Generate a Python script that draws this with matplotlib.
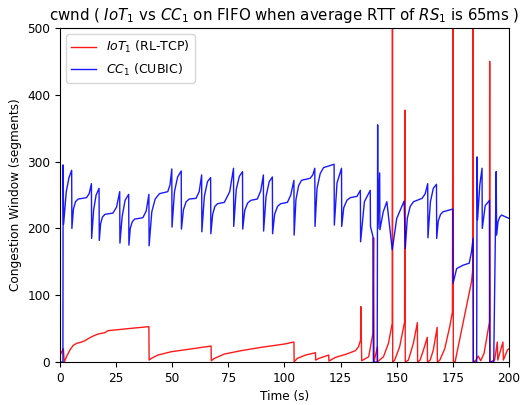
import numpy as np
import matplotlib
matplotlib.use('Agg')
import matplotlib.pyplot as plt

# cwnd samples (time in s, window in segments)
cubic_t = [0, 1.3, 1.4, 1.6, 2.8, 4.0, 5.2,
           5.3, 6.0, 6.9, 8.1, 11.8, 13.0, 14.0,
           14.1, 15.0, 16.1, 17.4,
           17.5, 18.1, 18.9, 20.0, 23.6, 25.2, 26.6,
           26.7, 27.7, 29.0, 30.6,
           30.7, 31.3, 32.2, 33.3, 36.9, 38.4, 39.6,
           39.7, 40.9, 42.4, 44.3, 48.0, 49.0, 49.8,
           49.9, 51.0, 52.4, 54.0,
           54.1, 55.0, 56.2, 57.6, 60.6, 62.0, 63.1,
           63.2, 64.3, 65.7, 67.1,
           67.2, 68.0, 69.0, 70.2, 73.2, 75.6, 77.3,
           77.4, 78.5, 79.9, 81.3,
           81.4, 82.3, 83.6, 85.0, 87.9, 89.4, 90.6,
           90.7, 91.8, 93.2, 94.6,
           94.7, 95.6, 96.9, 98.3, 101.3, 102.8, 104.2,
           104.3, 105.1, 106.3, 107.6, 111.4, 112.6, 113.5,
           113.6, 114.5, 115.9, 117.4, 121.1, 122.1,
           122.2, 123.4, 125.4,
           125.5, 126.4, 127.8, 129.3, 132.3, 133.8,
           133.9, 135.6, 138.2,
           138.3, 139.4, 139.6, 141.3, 141.5, 141.6, 142.4,
           142.5, 144.0, 145.6, 148.0, 150.0, 153.3,
           153.8, 154.7, 156.0, 157.5, 161.3, 162.7, 163.8,
           163.9, 165.0, 166.3, 167.7,
           167.8, 168.5, 169.5, 170.7, 175.0,
           175.1, 176.7, 179.6, 182.3, 183.3, 184.0,
           184.1, 185.6, 185.8, 186.0, 187.0, 188.0,
           188.1, 189.4, 191.3, 191.5, 193.2, 194.3,
           194.5, 195.1, 195.9, 196.7, 200.0]
cubic_w = [0, 0, 295, 206, 255, 276, 287,
           200, 229, 240, 244, 246, 252, 267,
           185, 228, 250, 260,
           182, 207, 217, 221, 223, 232, 255,
           178, 218, 242, 251,
           175, 200, 210, 214, 216, 226, 251,
           174, 225, 244, 252, 255, 265, 289,
           202, 255, 277, 286,
           199, 228, 240, 244, 245, 255, 280,
           195, 248, 270, 276,
           192, 221, 233, 237, 239, 255, 290,
           203, 258, 278, 285,
           199, 227, 238, 242, 244, 256, 280,
           196, 248, 270, 277,
           192, 221, 233, 237, 239, 250, 272,
           190, 243, 264, 272, 275, 280, 290,
           203, 260, 282, 291, 295, 296,
           205, 268, 290,
           203, 231, 242, 246, 248, 257,
           180, 240, 257,
           203, 188, 0, 0, 355, 200, 283,
           198, 225, 240, 168, 215, 241,
           170, 215, 233, 240, 245, 252, 267,
           186, 240, 260, 266,
           185, 211, 221, 225, 229,
           118, 140, 145, 148, 165, 185,
           0, 0, 307, 213, 265, 290,
           200, 234, 242, 0, 0, 285,
           190, 210, 217, 220, 215]

rl_t = [0, 1.5, 1.9, 2.9, 4.4, 5.9, 7.4, 9.6, 11.1, 12.6, 14.8, 17.0, 20.0,
        21.4, 24.4, 30.3, 33.3, 39.6,
        39.7, 40.7, 43.6, 49.6, 57.0, 67.3,
        67.4, 68.8, 73.2, 80.6, 89.5, 100.0, 104.2,
        104.3, 105.7, 109.4, 113.8,
        113.9, 115.3, 119.7,
        119.8, 122.7, 127.2, 131.6, 133.0, 133.9, 134.0,
        134.4, 137.5, 139.4, 139.7,
        139.9, 141.4, 141.5, 144.1, 146.3, 148.0, 148.1,
        148.2, 149.1, 151.3, 153.5, 153.7,
        153.8, 155.2, 157.4, 159.2,
        159.3, 160.4, 161.9, 163.6,
        163.7, 164.9, 166.3, 168.0,
        168.1, 169.2, 171.4, 173.6, 174.8, 175.1,
        175.2, 176.0, 183.3, 183.9, 184.0,
        184.1, 185.3, 186.3, 187.4, 188.9, 191.3, 191.4,
        191.5, 193.6, 194.8, 195.0, 197.3, 197.5, 199.3, 200.0]
rl_w = [10, 20, 0, 8, 18, 25, 28, 30, 32, 35, 39, 42, 44,
        47, 48, 50, 51, 53,
        3, 5.5, 10.5, 15.5, 19, 24,
        2, 5.5, 12, 17, 22, 27, 30,
        0.5, 5.5, 10.5, 14,
        3, 5.5, 10.5,
        1.5, 7, 11.5, 17, 23, 33, 83,
        2, 8, 43, 186,
        0.5, 23, 0.5, 8, 28, 58, 600,
        0, 3, 23, 60, 377,
        0, 3, 28, 59,
        0, 3, 18, 37,
        0, 3, 18, 52,
        0, 3, 20, 53, 75, 600,
        0, 0.5, 120, 140, 600,
        0, 3, 9, 2, 13, 60, 450,
        0, 3, 30, 3, 30, 3, 18, 20]

fig = plt.figure(figsize=(5.23, 4.05), dpi=100)
ax = fig.add_axes([0.1147, 0.106, 0.8585, 0.825])

ax.plot(rl_t, rl_w, color='red', lw=1.0, alpha=0.9, label='$IoT_1$ (RL-TCP)')
ax.plot(cubic_t, cubic_w, color='blue', lw=1.0, alpha=0.9, label='$CC_1$ (CUBIC)')

ax.set_xlim(0, 200)
ax.set_ylim(0, 500)
ax.set_xticks([0, 25, 50, 75, 100, 125, 150, 175, 200])
ax.set_yticks([0, 100, 200, 300, 400, 500])
ax.tick_params(labelsize=8.7)
ax.set_xlabel('Time (s)', fontsize=8.7)
ax.set_ylabel('Congestion Window (segments)', fontsize=8.7)
ax.set_title('cwnd ( $IoT_1$ vs $CC_1$ on FIFO when average RTT of $RS_1$ is 65ms )', fontsize=10.8)
ax.legend(loc='upper left', fontsize=9)

fig.savefig('out.png', dpi=100)
